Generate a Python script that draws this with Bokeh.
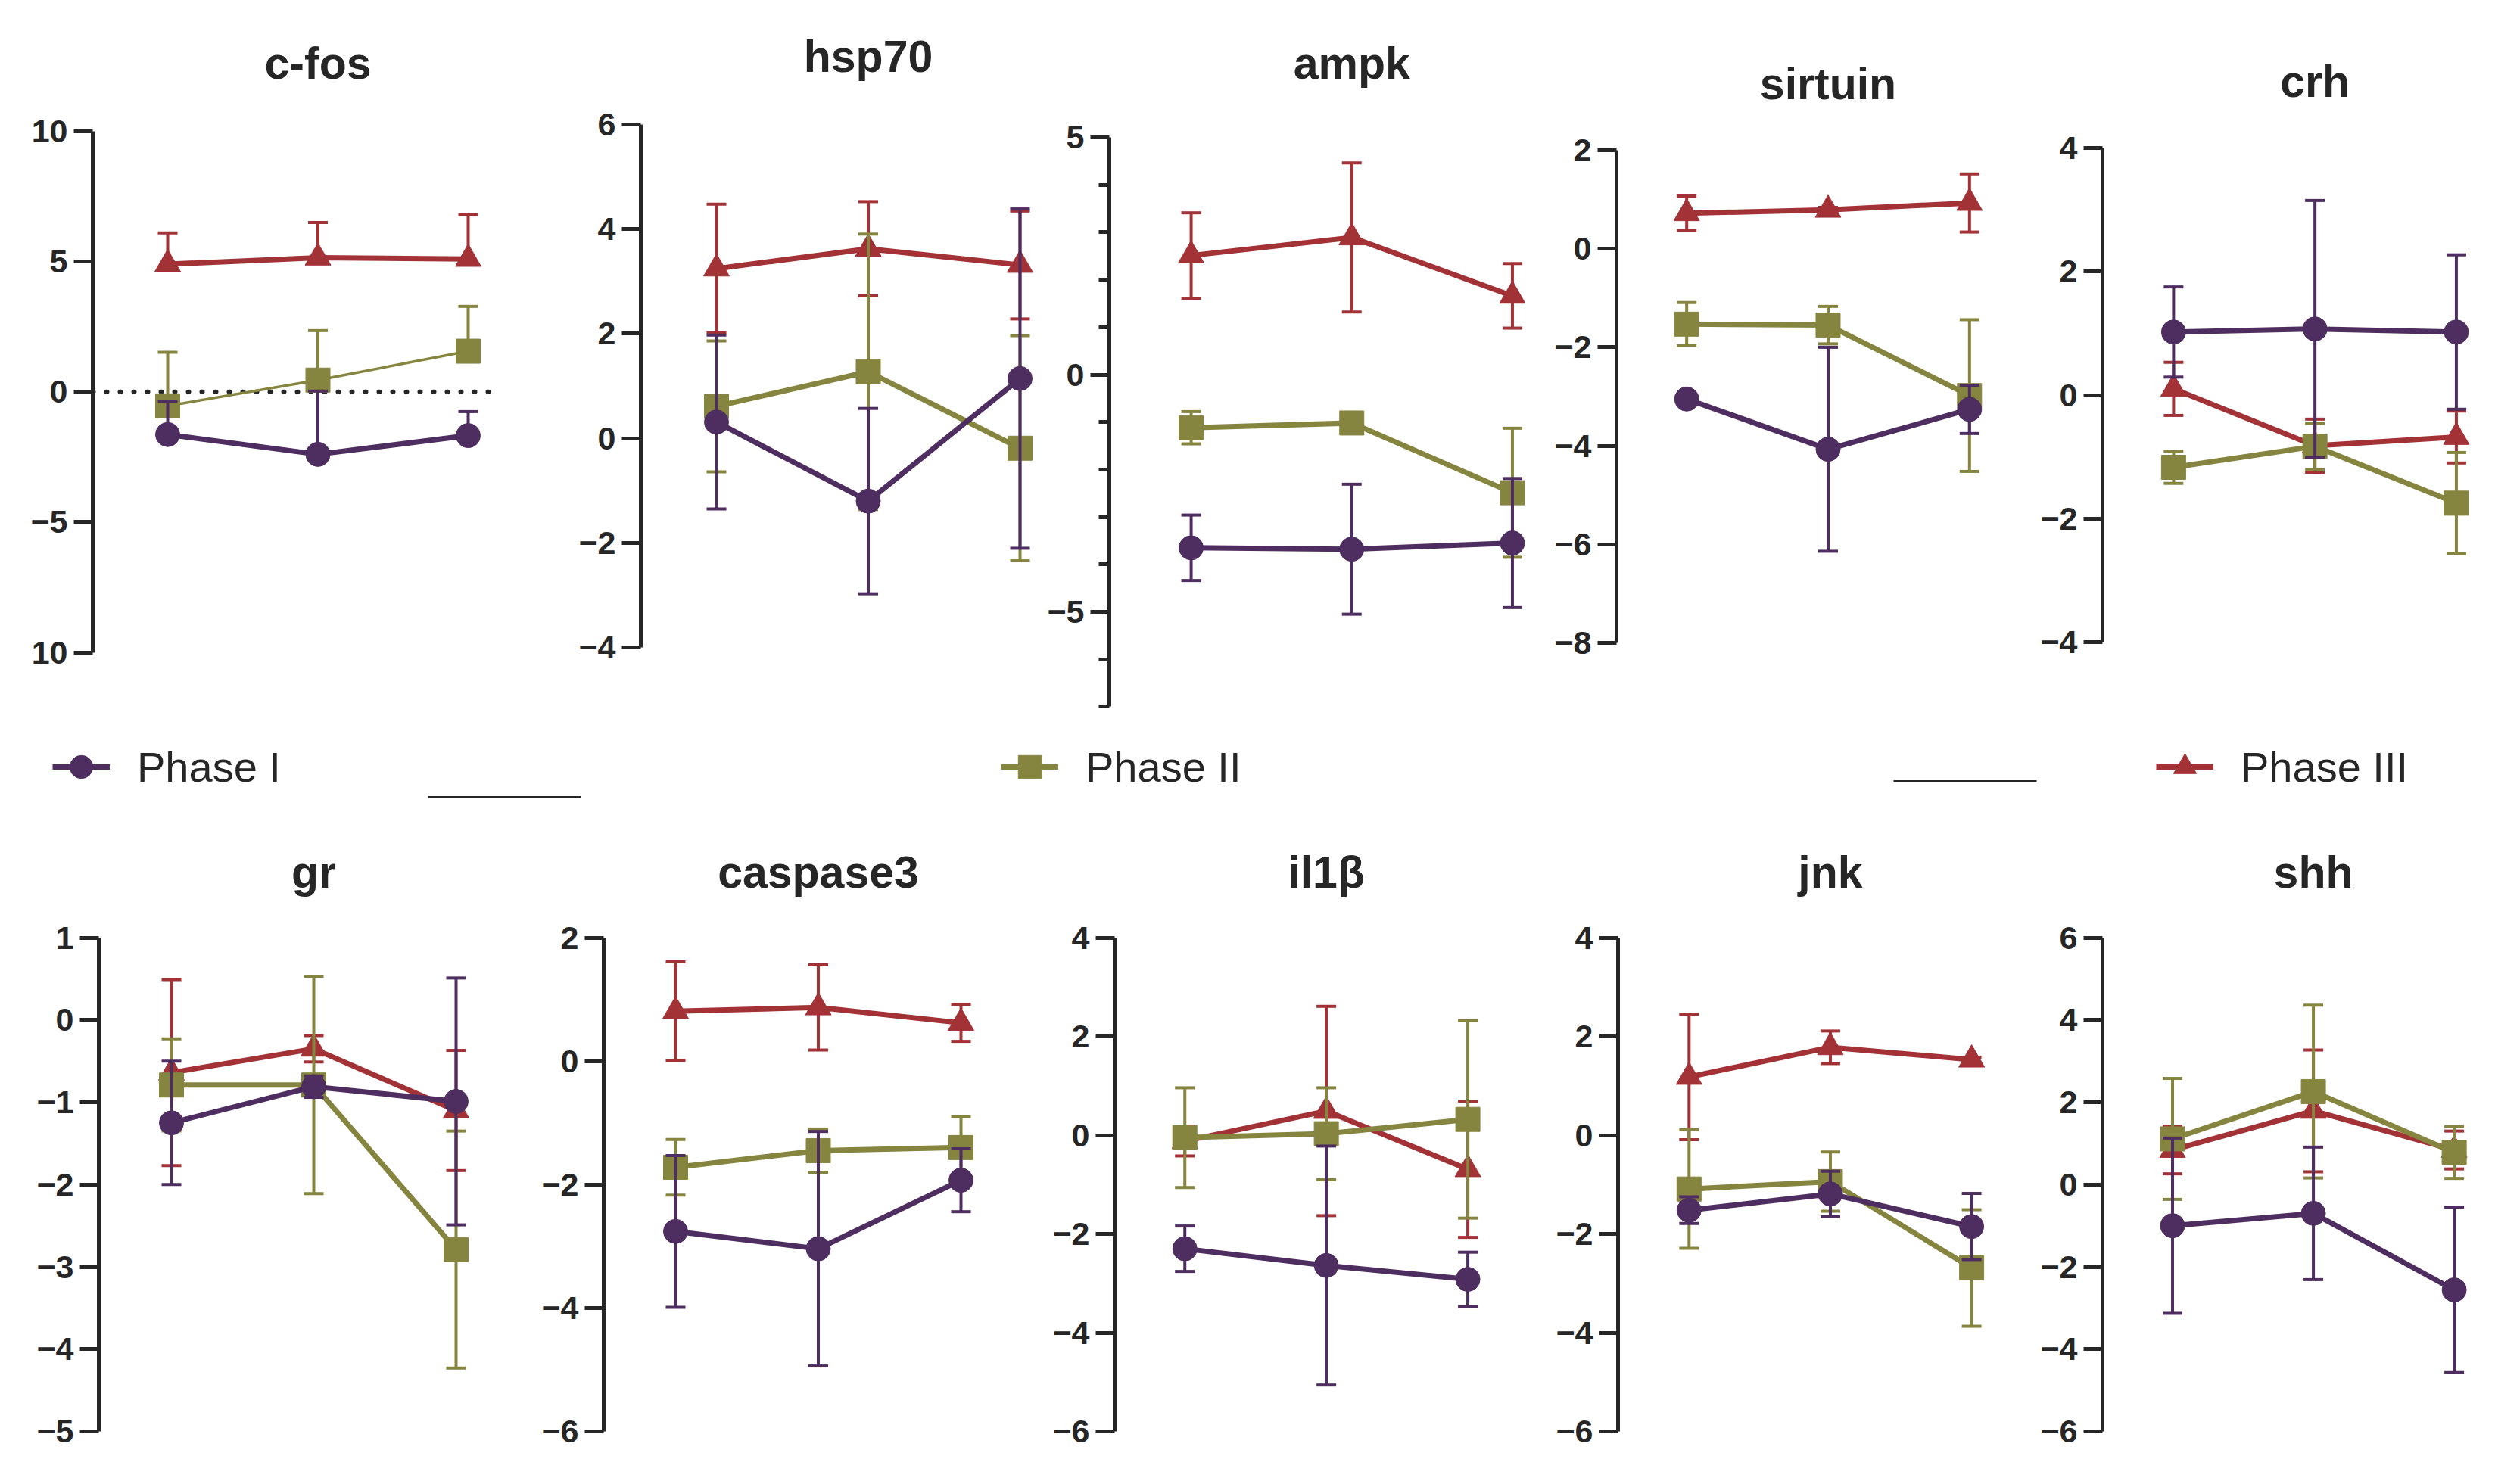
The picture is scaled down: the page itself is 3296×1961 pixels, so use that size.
from bokeh.plotting import figure
from bokeh.layouts import column, row
from bokeh.models import Range1d, FixedTicker, Label, Legend, LegendItem
from bokeh.embed import file_html
from bokeh.resources import INLINE

# ---------------- data ----------------
X = [1, 2, 3]
PHASES = ["Phase I", "Phase II", "Phase III"]
GENES = ["c-fos", "hsp70", "ampk", "sirtuin", "crh", "gr", "caspase3", "il1β", "jnk", "shh"]

CFOS_I = [-1.64, -2.40, -1.68];   CFOS_I_SD = [1.26, 2.43, 0.92]
CFOS_II = [-0.54, 0.45, 1.56];    CFOS_II_SD = [2.06, 1.90, 1.72]
CFOS_III = [4.90, 5.15, 5.10];    CFOS_III_SD = [1.20, 1.35, 1.70]

HSP70_I = [0.31, -1.20, 1.14];    HSP70_I_SD = [1.66, 1.77, 3.24]
HSP70_II = [0.61, 1.27, -0.19];   HSP70_II_SD = [1.25, 2.63, 2.15]
HSP70_III = [3.24, 3.62, 3.31];   HSP70_III_SD = [1.23, 0.90, 1.03]

AMPK_I = [-3.65, -3.68, -3.55];   AMPK_I_SD = [0.69, 1.37, 1.36]
AMPK_II = [-1.12, -1.02, -2.49];  AMPK_II_SD = [0.34, 0.10, 1.36]
AMPK_III = [2.51, 2.89, 1.66];    AMPK_III_SD = [0.90, 1.57, 0.68]

SIRT_I = [-3.05, -4.07, -3.26];   SIRT_I_SD = [0.08, 2.07, 0.49]
SIRT_II = [-1.53, -1.55, -2.98];  SIRT_II_SD = [0.44, 0.38, 1.54]
SIRT_III = [0.72, 0.79, 0.93];    SIRT_III_SD = [0.35, 0.05, 0.59]

CRH_I = [1.02, 1.07, 1.02];       CRH_I_SD = [0.73, 2.08, 1.25]
CRH_II = [-1.17, -0.83, -1.75];   CRH_II_SD = [0.26, 0.37, 0.82]
CRH_III = [0.10, -0.82, -0.68];   CRH_III_SD = [0.43, 0.43, 0.42]

GR_I = [-1.25, -0.81, -0.99];     GR_I_SD = [0.75, 0.13, 1.50]
GR_II = [-0.79, -0.79, -2.79];    GR_II_SD = [0.56, 1.32, 1.44]
GR_III = [-0.64, -0.35, -1.10];   GR_III_SD = [1.13, 0.16, 0.73]

CASP3_I = [-2.76, -3.04, -1.93];  CASP3_I_SD = [1.23, 1.90, 0.51]
CASP3_II = [-1.72, -1.45, -1.40]; CASP3_II_SD = [0.45, 0.35, 0.50]
CASP3_III = [0.81, 0.87, 0.62];   CASP3_III_SD = [0.80, 0.69, 0.30]

IL1B_I = [-2.30, -2.64, -2.92];   IL1B_I_SD = [0.46, 2.42, 0.55]
IL1B_II = [-0.05, 0.03, 0.32];    IL1B_II_SD = [1.01, 0.93, 2.00]
IL1B_III = [-0.12, 0.49, -0.69];  IL1B_III_SD = [0.30, 2.12, 1.38]

JNK_I = [-1.52, -1.19, -1.85];    JNK_I_SD = [0.27, 0.46, 0.67]
JNK_II = [-1.09, -0.94, -2.69];   JNK_II_SD = [1.20, 0.60, 1.18]
JNK_III = [1.18, 1.78, 1.53];     JNK_III_SD = [1.27, 0.33, 0.05]

SHH_I = [-1.00, -0.70, -2.56];    SHH_I_SD = [2.13, 1.61, 2.01]
SHH_II = [1.11, 2.26, 0.78];      SHH_II_SD = [1.47, 2.10, 0.63]
SHH_III = [0.84, 1.79, 0.84];     SHH_III_SD = [0.58, 1.48, 0.46]

# y-axis ticks per panel
TICKS_CFOS = [-10, -5, 0, 5, 10]
TICKS_HSP70 = [-4, -2, 0, 2, 4, 6]
TICKS_AMPK = [-5, 0, 5]
MINOR_AMPK = [-7, -6, -4, -3, -2, -1, 1, 2, 3, 4]
TICKS_SIRT = [-8, -6, -4, -2, 0, 2]
TICKS_CRH = [-4, -2, 0, 2, 4]
TICKS_GR = [-5, -4, -3, -2, -1, 0, 1]
TICKS_CASP3 = [-6, -4, -2, 0, 2]
TICKS_IL1B = [-6, -4, -2, 0, 2, 4]
TICKS_JNK = [-6, -4, -2, 0, 2, 4]
TICKS_SHH = [-6, -4, -2, 0, 2, 4, 6]

# ---------------- style ----------------
COLORS = ["#4E2D60", "#868540", "#A33237"]
MARKERS = ["circle", "square", "triangle"]
INK = "#262626"
FONT = "Liberation Sans"

# layout: (fig_left, fig_right, axis_px, first_pt_px, last_pt_px, hi_val, hi_px, lo_val, lo_px, title_baseline_px)
TOP_T, TOP_H = 8, 977
BOT_T, BOT_H = 1085, 868
LEG_T, LEG_H = 985, 100

LAYOUT = {
    "c-fos":    (8, 740, 130, 229, 626, 10, 181.0, -10, 869.5, 91),
    "hsp70":    (740, 1388, 854, 954, 1355, 6, 171.5, -4, 863.4, 82),
    "ampk":     (1388, 2058, 1468, 1577, 2005, 5, 189.0, -5, 816.0, 91),
    "sirtuin":  (2058, 2700, 2135, 2229, 2608, 2, 206.0, -8, 857.0, 118),
    "crh":      (2700, 3288, 2779, 2874, 3252, 4, 203.0, -4, 856.0, 115),
    "gr":       (8, 700, 138, 234, 610, 1, 1246.6, -5, 1899.0, 1160),
    "caspase3": (700, 1395, 805, 900, 1277, 2, 1246.6, -6, 1899.0, 1160),
    "il1β":     (1395, 2060, 1472, 1566, 1945, 4, 1246.6, -6, 1899.0, 1160),
    "jnk":      (2060, 2700, 2138, 2233, 2611, 4, 1246.6, -6, 1899.0, 1160),
    "shh":      (2700, 3288, 2777, 2871, 3249, 6, 1246.6, -6, 1899.0, 1160),
}


def make_panel(gene, series, ticks, T, H, minor=None, overrides=None,
               upper_only=False, zero_line=False, line_widths=(7, 7, 7)):
    fl, fr, ax, p1, p3, hv, hp, lv, lp, tb = LAYOUT[gene]
    sp = (p3 - p1) / 2.0
    W = fr - fl
    left = ax - fl
    x0 = 1 - (p1 - ax) / sp
    x1 = x0 + (W - left) / sp
    s = (lp - hp) / (hv - lv)
    y1 = hv + (hp - T) / s
    y0 = lv - (T + H - lp) / s

    p = figure(width=W, height=H, x_range=Range1d(x0, x1), y_range=Range1d(y0, y1),
               x_axis_location=None, y_axis_location="left", toolbar_location=None,
               output_backend="svg", min_border_left=left, min_border_right=0,
               min_border_top=0, min_border_bottom=0, outline_line_color=None, title=None)
    p.grid.visible = False
    p.background_fill_color = "white"
    p.border_fill_color = "white"

    yax = p.yaxis[0]
    yax.bounds = (min(ticks + (minor or [])), max(ticks + (minor or [])))
    yax.ticker = FixedTicker(ticks=ticks, minor_ticks=minor or [])
    yax.axis_line_width = 5
    yax.axis_line_color = INK
    yax.major_tick_line_width = 5
    yax.major_tick_line_color = INK
    yax.major_tick_out = 25
    yax.major_tick_in = 0
    if minor:
        yax.minor_tick_line_width = 5
        yax.minor_tick_line_color = INK
        yax.minor_tick_out = 14
        yax.minor_tick_in = 0
    else:
        yax.minor_tick_line_color = None
    yax.major_label_text_font = FONT
    yax.major_label_text_font_style = "bold"
    yax.major_label_text_font_size = "43px"
    yax.major_label_text_color = INK
    yax.major_label_standoff = 8
    if overrides:
        yax.major_label_overrides = overrides

    if zero_line:
        p.line([x0, 3.2], [0, 0], line_color=INK, line_width=6, line_dash="1 17",
               line_cap="round")

    # draw Phase III first, Phase I on top
    for i in [2, 1, 0]:
        mean, sd = series[i]
        col = COLORS[i]
        hi = [m + e for m, e in zip(mean, sd)]
        lo = list(mean) if upper_only else [m - e for m, e in zip(mean, sd)]
        p.segment(x0=X, y0=lo, x1=X, y1=hi, line_color=col, line_width=4)
        cy = hi if upper_only else hi + lo
        cx = X if upper_only else X + X
        p.scatter(x=cx, y=cy, marker="dash", size=26, line_color=col, line_width=4)
        p.line(X, mean, line_color=col, line_width=line_widths[i], line_join="round")
        p.scatter(x=X, y=mean, marker=MARKERS[i], size=34 if i == 2 else 32,
                  fill_color=col, line_color=col, line_width=1)

    p.add_layout(Label(x=2, y=y1 - (tb - T) / s, text=gene, text_align="center",
                       text_baseline="alphabetic", text_font=FONT, text_font_style="bold",
                       text_font_size="59px", text_color=INK))
    return p


top = [
    make_panel("c-fos", [(CFOS_I, CFOS_I_SD), (CFOS_II, CFOS_II_SD), (CFOS_III, CFOS_III_SD)],
               TICKS_CFOS, TOP_T, TOP_H, overrides={-10: "10"}, upper_only=True,
               zero_line=True, line_widths=(7, 3.5, 7)),
    make_panel("hsp70", [(HSP70_I, HSP70_I_SD), (HSP70_II, HSP70_II_SD), (HSP70_III, HSP70_III_SD)],
               TICKS_HSP70, TOP_T, TOP_H),
    make_panel("ampk", [(AMPK_I, AMPK_I_SD), (AMPK_II, AMPK_II_SD), (AMPK_III, AMPK_III_SD)],
               TICKS_AMPK, TOP_T, TOP_H, minor=MINOR_AMPK),
    make_panel("sirtuin", [(SIRT_I, SIRT_I_SD), (SIRT_II, SIRT_II_SD), (SIRT_III, SIRT_III_SD)],
               TICKS_SIRT, TOP_T, TOP_H),
    make_panel("crh", [(CRH_I, CRH_I_SD), (CRH_II, CRH_II_SD), (CRH_III, CRH_III_SD)],
               TICKS_CRH, TOP_T, TOP_H),
]
bottom = [
    make_panel("gr", [(GR_I, GR_I_SD), (GR_II, GR_II_SD), (GR_III, GR_III_SD)],
               TICKS_GR, BOT_T, BOT_H),
    make_panel("caspase3", [(CASP3_I, CASP3_I_SD), (CASP3_II, CASP3_II_SD), (CASP3_III, CASP3_III_SD)],
               TICKS_CASP3, BOT_T, BOT_H),
    make_panel("il1β", [(IL1B_I, IL1B_I_SD), (IL1B_II, IL1B_II_SD), (IL1B_III, IL1B_III_SD)],
               TICKS_IL1B, BOT_T, BOT_H),
    make_panel("jnk", [(JNK_I, JNK_I_SD), (JNK_II, JNK_II_SD), (JNK_III, JNK_III_SD)],
               TICKS_JNK, BOT_T, BOT_H),
    make_panel("shh", [(SHH_I, SHH_I_SD), (SHH_II, SHH_II_SD), (SHH_III, SHH_III_SD)],
               TICKS_SHH, BOT_T, BOT_H),
]

# ---------------- legend strip ----------------
leg = figure(width=3280, height=LEG_H, x_range=Range1d(8, 3288), y_range=Range1d(LEG_T + LEG_H, LEG_T),
             x_axis_location=None, y_axis_location=None, toolbar_location=None,
             output_backend="svg", min_border_left=0, min_border_right=0,
             min_border_top=0, min_border_bottom=0, outline_line_color=None, title=None)
leg.grid.visible = False

# two stray rule lines present in the original figure
leg.segment(x0=[573, 2509], y0=[1061, 1040], x1=[775, 2698], y1=[1061, 1040],
            line_color=INK, line_width=3)

# proxy renderers for the legend keys (placed outside the visible strip)
LEG_POS = [(69, 24), (1322, 24), (2848, 24)]
for i, name in enumerate(PHASES):
    rl = leg.line(x=[-900, -800], y=[-900, -900], line_color=COLORS[i], line_width=7)
    rs = leg.scatter(x=[-850], y=[-900], marker=MARKERS[i], size=32,
                     fill_color=COLORS[i], line_color=COLORS[i])
    lg = Legend(items=[LegendItem(label=name, renderers=[rl, rs])], location=LEG_POS[i],
                orientation="horizontal", glyph_width=76, glyph_height=80, label_standoff=36,
                label_text_font=FONT, label_text_font_size="56px", label_text_color=INK,
                padding=0, margin=0, spacing=0, border_line_color=None,
                background_fill_alpha=0)
    leg.add_layout(lg, "center")

layout = column(row(*top, spacing=0), leg, row(*bottom, spacing=0), spacing=0)

open("out.html", "w").write(file_html(layout, INLINE))
